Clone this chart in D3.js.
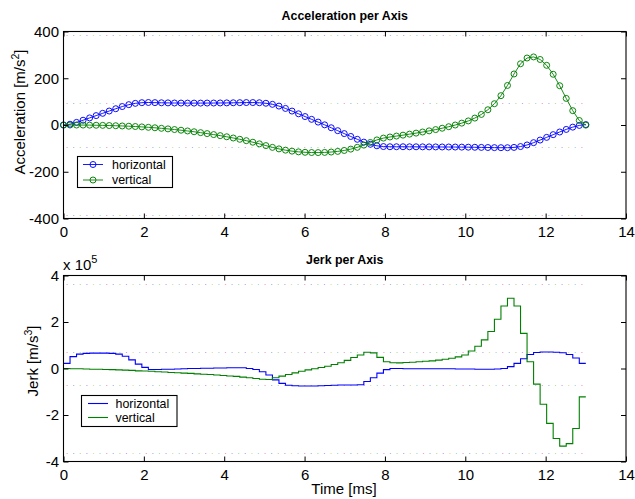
<!DOCTYPE html>
<html>
<head>
<meta charset="utf-8">
<script src="https://cdn.jsdelivr.net/npm/d3@7"></script>
<style>
  html, body { margin: 0; padding: 0; background: #fff; }
  svg { display: block; }
  text { font-family: "Liberation Sans", Arial, Helvetica, sans-serif; fill: #000; }
</style>
</head>
<body>
<svg id="fig" width="635" height="499"></svg>
<script>
// Sample times [ms]
const timeMs = [
  0, 0.1625, 0.325, 0.4875, 0.65, 0.8125, 0.975, 1.1375, 1.3, 1.4625,
  1.625, 1.7875, 1.95, 2.1125, 2.275, 2.4375, 2.6, 2.7625, 2.925, 3.0875,
  3.25, 3.4125, 3.575, 3.7375, 3.9, 4.0625, 4.225, 4.3875, 4.55, 4.7125,
  4.875, 5.0375, 5.2, 5.3625, 5.525, 5.6875, 5.85, 6.0125, 6.175, 6.3375,
  6.5, 6.6625, 6.825, 6.9875, 7.15, 7.3125, 7.475, 7.6375, 7.8, 7.9625,
  8.125, 8.2875, 8.45, 8.6125, 8.775, 8.9375, 9.1, 9.2625, 9.425, 9.5875,
  9.75, 9.9125, 10.075, 10.2375, 10.4, 10.5625, 10.725, 10.8875, 11.05, 11.2125,
  11.375, 11.5375, 11.7, 11.8625, 12.025, 12.1875, 12.35, 12.5125, 12.675, 12.8375,
  13
];

// Acceleration [m/s^2] at each sample
const accelHorizontal = [
  0, 3.4, 11.1, 20.4, 30.3, 40.2, 50.0, 59.8, 69.6, 79.0,
  87.0, 92.6, 95.5, 96.3, 95.7, 95.1, 94.6, 94.1, 93.9, 93.7,
  93.7, 93.7, 93.9, 94.0, 94.3, 94.6, 95.1, 95.5, 96.0, 96.0,
  95.2, 93.0, 88.4, 80.9, 70.9, 59.6, 47.9, 36.1, 24.2, 12.4,
  0.7, -11.8, -24.3, -36.7, -49.0, -61.2, -73.2, -82.5, -89.0, -92.2,
  -93.0, -93.0, -93.0, -93.2, -93.3, -93.5, -93.6, -93.8, -94.0, -94.1,
  -94.3, -94.6, -94.9, -95.3, -95.8, -96.3, -96.8, -97.1, -97.1, -95.8,
  -92.2, -85.4, -75.6, -64.4, -52.9, -41.3, -29.9, -18.9, -9.1, -1.8,
  1.8
];
const accelVertical = [
  0, 0, -0.2, -0.3, -0.6, -1.1, -1.6, -2.3, -3.1, -4.1,
  -5.2, -6.5, -8.1, -9.9, -11.9, -14.2, -16.6, -19.4, -22.3, -25.5,
  -28.9, -32.7, -36.8, -41.0, -45.5, -50.4, -55.6, -61.1, -67.1, -73.6,
  -80.6, -88.1, -95.7, -102.2, -107.6, -111.8, -114.9, -116.8, -117.8, -118.0,
  -117.3, -115.7, -112.9, -108.9, -103.2, -95.5, -86.1, -74.7, -63.8, -56.0,
  -51.3, -47.3, -43.4, -39.1, -34.7, -30.0, -25.0, -19.6, -13.8, -7.3,
  -0.1, 8.0, 17.5, 29.6, 45.2, 65.2, 91.1, 125.5, 169.2, 218.3,
  262.0, 286.5, 291.2, 280.3, 255.3, 217.0, 168.0, 113.8, 61.3, 19.3,
  -0.5
];

// Jerk [x 10^5 m/s^3], one value per sample interval
const jerkHorizontal = [
  0.22, 0.51, 0.62, 0.65, 0.66, 0.66, 0.66, 0.65, 0.62, 0.53,
  0.37, 0.19, 0.05, -0.04, -0.04, -0.03, -0.03, -0.02, -0.01, 0,
  0, 0.01, 0.01, 0.02, 0.02, 0.03, 0.03, 0.03, 0, -0.04,
  -0.14, -0.28, -0.49, -0.64, -0.72, -0.74, -0.75, -0.75, -0.75, -0.74,
  -0.73, -0.72, -0.71, -0.71, -0.71, -0.70, -0.56, -0.40, -0.20, -0.05,
  0, 0, -0.01, -0.01, -0.01, -0.01, -0.01, -0.01, -0.01, -0.01,
  -0.02, -0.02, -0.02, -0.03, -0.03, -0.03, -0.02, 0, 0.08, 0.22,
  0.42, 0.60, 0.69, 0.71, 0.71, 0.70, 0.68, 0.60, 0.45, 0.22
];
const jerkVertical = [
  0, -0.01, -0.01, -0.02, -0.03, -0.03, -0.04, -0.05, -0.06, -0.07,
  -0.08, -0.10, -0.11, -0.12, -0.14, -0.15, -0.17, -0.18, -0.20, -0.21,
  -0.23, -0.25, -0.26, -0.28, -0.30, -0.32, -0.34, -0.37, -0.40, -0.43,
  -0.46, -0.47, -0.40, -0.33, -0.26, -0.19, -0.12, -0.06, -0.01, 0.04,
  0.10, 0.17, 0.25, 0.35, 0.47, 0.58, 0.70, 0.67, 0.48, 0.29,
  0.25, 0.24, 0.26, 0.27, 0.29, 0.31, 0.33, 0.36, 0.40, 0.44,
  0.50, 0.58, 0.75, 0.96, 1.23, 1.59, 2.12, 2.69, 3.02, 2.69,
  1.51, 0.29, -0.67, -1.54, -2.36, -3.01, -3.34, -3.23, -2.58, -1.22
];

const seriesNames = ["horizontal", "vertical"];
const seriesColors = ["#0000ff", "#008000"];

const xTicks = [0, 2, 4, 6, 8, 10, 12, 14];
const accelTicks = [-400, -200, 0, 200, 400];
const jerkTicks = [-4, -2, 0, 2, 4];

// Dotted reference levels drawn across the sampled time span
const accelRefLevels = [385, 96, -96, -385];
const jerkRefLevels = [3.62, 0.72, -0.72, -3.62];
const dotColors = ["#f2a2c4", "#a2bcf0", "#b2e0a6", "#c4a6ee", "#e2de9c", "#a0dbe4"];

const svg = d3.select("#fig");
svg.append("rect").attr("width", 635).attr("height", 499).attr("fill", "#fff");

const FONT = "\"Liberation Sans\", Arial, Helvetica, sans-serif";
const left = 63.5, right = 626;
const panels = [
  { top: 31.5, bottom: 218.5, domain: [-400, 400], ticks: accelTicks },
  { top: 275.5, bottom: 461.5, domain: [-4, 4], ticks: jerkTicks }
];

const x = d3.scaleLinear().domain([0, 14]).range([left, right]);

function drawFrame(p, y) {
  const g = svg.append("g");
  const tick = 5;
  const axB = d3.axisBottom(x).tickValues(xTicks).tickSizeInner(-tick).tickSizeOuter(0).tickPadding(7.5).tickFormat(d3.format("d"));
  const axT = d3.axisTop(x).tickValues(xTicks).tickSizeInner(-tick).tickSizeOuter(0).tickFormat("");
  const axL = d3.axisLeft(y).tickValues(p.ticks).tickSizeInner(-tick).tickSizeOuter(0).tickPadding(4.5).tickFormat(d => d3.format("d")(d).replace("\u2212", "-"));
  const axR = d3.axisRight(y).tickValues(p.ticks).tickSizeInner(-tick).tickSizeOuter(0).tickFormat("");
  const gb = g.append("g").attr("transform", `translate(0,${p.bottom})`).call(axB);
  const gt = g.append("g").attr("transform", `translate(0,${p.top})`).call(axT);
  const gl = g.append("g").attr("transform", `translate(${left},0)`).call(axL);
  const gr = g.append("g").attr("transform", `translate(${right},0)`).call(axR);
  [gb, gt, gl, gr].forEach(a => {
    a.select(".domain").remove();
    a.selectAll("line").attr("stroke", "#000").attr("stroke-width", 1);
    a.selectAll("text").attr("font-family", FONT).attr("font-size", 15).attr("fill", "#000");
  });
  g.append("rect")
    .attr("x", left).attr("y", p.top)
    .attr("width", right - left).attr("height", p.bottom - p.top)
    .attr("fill", "none").attr("stroke", "#000").attr("stroke-width", 1.1);
}

function drawRefLevels(levels, y) {
  const t0 = x(timeMs[0]), t1 = x(timeMs[timeMs.length - 1]);
  const gap = 6.6, n = dotColors.length;
  levels.forEach(v => {
    const yy = Math.round(y(v)) + 0.5;
    dotColors.forEach((c, i) => {
      svg.append("line")
        .attr("x1", t0).attr("x2", t1).attr("y1", yy).attr("y2", yy)
        .attr("stroke", c).attr("stroke-width", 1)
        .attr("stroke-dasharray", `1.2 ${gap * n - 1.2}`)
        .attr("stroke-dashoffset", -gap * i - 3);
    });
  });
}

// ---- Acceleration panel ----
const yA = d3.scaleLinear().domain(panels[0].domain).range([panels[0].bottom, panels[0].top]);
drawRefLevels(accelRefLevels, yA);

const accelSeries = [accelHorizontal, accelVertical];
const accelLine = d3.line().x((d, i) => x(timeMs[i])).y(d => yA(d));
accelSeries.forEach((vals, s) => {
  const g = svg.append("g");
  g.append("path").attr("d", accelLine(vals))
    .attr("fill", "none").attr("stroke", seriesColors[s]).attr("stroke-width", 0.9);
  g.selectAll("circle").data(vals).join("circle")
    .attr("cx", (d, i) => x(timeMs[i])).attr("cy", d => yA(d))
    .attr("r", 3).attr("fill", "none")
    .attr("stroke", seriesColors[s]).attr("stroke-width", 0.95);
});
drawFrame(panels[0], yA);

// ---- Jerk panel ----
const yJ = d3.scaleLinear().domain(panels[1].domain).range([panels[1].bottom, panels[1].top]);
drawRefLevels(jerkRefLevels, yJ);

const jerkSeries = [jerkHorizontal, jerkVertical];
const stairs = d3.line().curve(d3.curveStepAfter).x(d => x(d[0])).y(d => yJ(d[1]));
jerkSeries.forEach((vals, s) => {
  const pts = vals.map((v, i) => [timeMs[i], v]);
  pts.push([timeMs[vals.length], vals[vals.length - 1]]);
  svg.append("path").attr("d", stairs(pts))
    .attr("fill", "none").attr("stroke", seriesColors[s]).attr("stroke-width", 1.1);
});
drawFrame(panels[1], yJ);

// ---- Titles and labels ----
const midX = (left + right) / 2;
svg.append("text").attr("x", midX).attr("y", 20).attr("text-anchor", "middle")
  .attr("font-size", 12.4).attr("font-weight", "bold").text("Acceleration per Axis");
svg.append("text").attr("x", midX).attr("y", 264).attr("text-anchor", "middle")
  .attr("font-size", 12.4).attr("font-weight", "bold").text("Jerk per Axis");

function yLabel(cx, cy, main, sup) {
  const t = svg.append("text").attr("transform", `translate(${cx},${cy}) rotate(-90)`)
    .attr("text-anchor", "middle").attr("font-size", 15);
  t.append("tspan").text(main);
  t.append("tspan").attr("dy", -6).attr("font-size", 10.5).text(sup);
  t.append("tspan").attr("dy", 6).text("]");
}
yLabel(25, 112, "Acceleration [m/s", "2");
yLabel(38, 361, "Jerk [m/s", "3");

const mult = svg.append("text").attr("x", 63).attr("y", 270).attr("font-size", 15);
mult.append("tspan").text("x 10");
mult.append("tspan").attr("dy", -7).attr("font-size", 11).text("5");

svg.append("text").attr("x", 344).attr("y", 494).attr("text-anchor", "middle")
  .attr("font-size", 15).text("Time [ms]");

// ---- Legends ----
function legend(bx, by, bw, bh, rows, lineX0, lineX1, textX, withMarkers) {
  const g = svg.append("g");
  g.append("rect").attr("x", bx).attr("y", by).attr("width", bw).attr("height", bh)
    .attr("fill", "#fff").attr("stroke", "#000").attr("stroke-width", 1.1);
  seriesNames.forEach((name, i) => {
    const ry = rows[i];
    g.append("line").attr("x1", lineX0).attr("x2", lineX1).attr("y1", ry).attr("y2", ry)
      .attr("stroke", seriesColors[i]).attr("stroke-width", withMarkers ? 0.9 : 1.1);
    if (withMarkers) {
      g.append("circle").attr("cx", (lineX0 + lineX1) / 2).attr("cy", ry).attr("r", 3)
        .attr("fill", "none").attr("stroke", seriesColors[i]).attr("stroke-width", 0.95);
    }
    g.append("text").attr("x", textX).attr("y", ry + 4.4).attr("font-size", 12.4).text(name);
  });
}
legend(77.5, 156.5, 95, 31, [164.5, 180], 83, 103, 112, true);
legend(81.5, 395.5, 95.5, 31, [403.5, 417.5], 88, 108, 115.5, false);
</script>
</body>
</html>
